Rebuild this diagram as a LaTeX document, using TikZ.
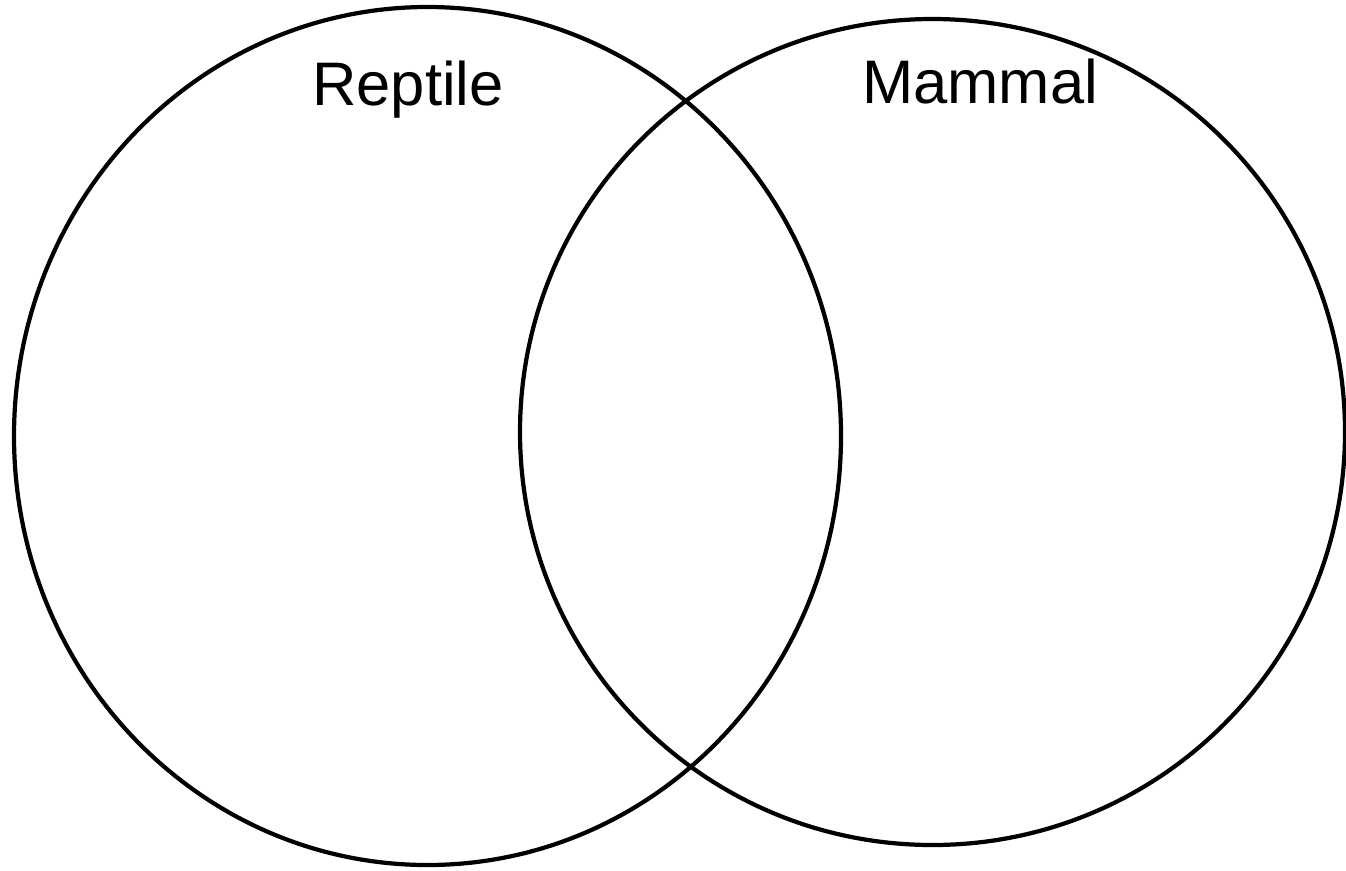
\documentclass[tikz,border=0pt]{standalone}
\usepackage{fontspec}
\setmainfont{Liberation Sans}
\begin{document}
\begin{tikzpicture}[x=0.02cm, y=-0.02cm,
    conjunto/.style={black, line width=2.4pt},
    etiqueta/.style={font=\fontsize{35}{42}\selectfont, anchor=base, inner sep=0pt}]
    % marco del dibujo
    \useasboundingbox (0,0) rectangle (1346,870);

    % ---- Conjunto izquierdo ----
    \draw[conjunto] (427.5,436) ellipse [x radius=413.5, y radius=429];
    \node[etiqueta] (reptil) at (408,105) {Reptile};

    % ---- Conjunto derecho ----
    \draw[conjunto] (932.5,432) ellipse [x radius=412.5, y radius=413];
    \node[etiqueta] (mamifero) at (980,103) {Mammal};
\end{tikzpicture}
\end{document}
